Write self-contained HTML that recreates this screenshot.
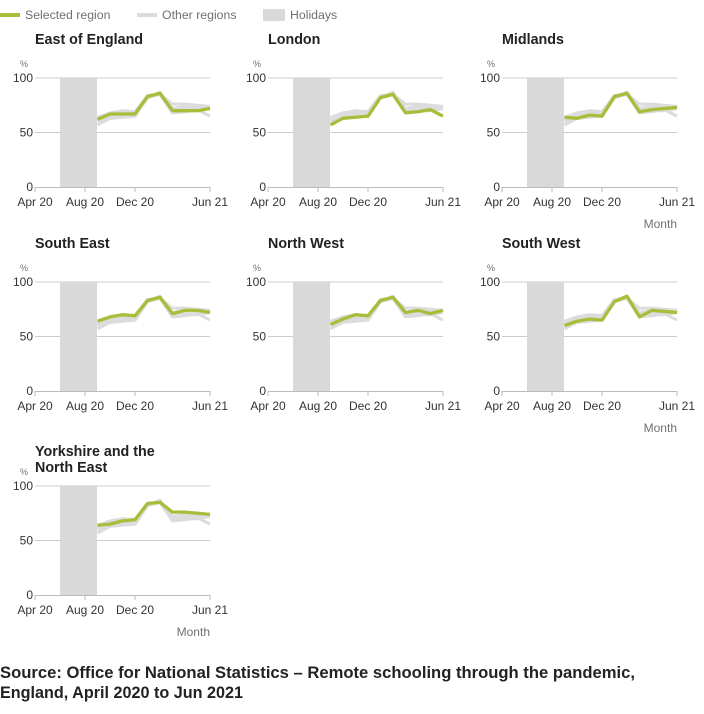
<!DOCTYPE html>
<html><head><meta charset="utf-8"><style>
body{margin:0;background:#fff;font-family:"Liberation Sans",sans-serif;}
svg text{font-family:"Liberation Sans",sans-serif;}
</style></head><body>
<svg id="chart" width="704" height="709" xmlns="http://www.w3.org/2000/svg">
<g>
<line x1="0" y1="15" x2="20" y2="15" stroke="#a8bd3a" stroke-width="4"/>
<text x="25" y="19" font-size="12.3" fill="#707070">Selected region</text>
<line x1="137" y1="15" x2="157" y2="15" stroke="#dcdcdc" stroke-width="4"/>
<text x="162" y="19" font-size="12.3" fill="#707070">Other regions</text>
<rect x="263" y="9" width="22" height="12" fill="#d9d9d9"/>
<text x="290" y="19" font-size="12.3" fill="#707070">Holidays</text>
</g>
<text x="0" y="678" font-size="16.5" font-weight="bold" fill="#222" textLength="635" lengthAdjust="spacingAndGlyphs">Source: Office for National Statistics – Remote schooling through the pandemic,</text>
<text x="0" y="698" font-size="16.5" font-weight="bold" fill="#222" textLength="243" lengthAdjust="spacingAndGlyphs">England, April 2020 to Jun 2021</text>
</svg>
<script>
const regions = ["East of England","London","Midlands","South East","North West","South West","Yorkshire and the North East"];
const months = [5,6,7,8,9,10,11,12,13,14]; // months since Apr 20
const eastEngland = [62,67,67,67,83,86,70,70,70,72];
const london = [57,63,64,65,82,85,68,69,71,65];
const midlands = [64,63,66,65,83,86,69,71,72,73];
const southEast = [64,68,70,69,83,86,71,74,74,72];
const northWest = [61,66,70,69,83,86,72,74,71,74];
const southWest = [60,64,66,65,82,87,68,74,73,72];
const yorkshire = [64,65,68,69,84,85,76,76,75,74];
const series = [eastEngland,london,midlands,southEast,northWest,southWest,yorkshire];
const yTicks = [0,50,100];
const xTicks = [0,4,8,14];
const xTickLabels = ["Apr 20","Aug 20","Dec 20","Jun 21"];
const holiday = [2,5];

const svg = document.getElementById('chart');
const NS = 'http://www.w3.org/2000/svg';
function mk(tag, attrs, parent){const e=document.createElementNS(NS,tag);for(const k in attrs)e.setAttribute(k,attrs[k]);parent.appendChild(e);return e;}
const colX=[35,268,502], rowY=[78,282,486];
regions.forEach((name,i)=>{
  const ox=colX[i%3], oy=rowY[Math.floor(i/3)];
  const xs=m=>ox+m*12.5, ys=v=>oy+109-v*1.09;
  const g=mk('g',{},svg);
  
  
  const two=name.length>20;
  if(two){
    const t=mk('text',{x:ox,y:oy-30,'font-size':14.3,'font-weight':'bold',fill:'#222'},g);t.textContent='Yorkshire and the';
    const t2=mk('text',{x:ox,y:oy-14,'font-size':14.3,'font-weight':'bold',fill:'#222'},g);t2.textContent='North East';
  } else {
    const t=mk('text',{x:ox,y:oy-34,'font-size':14.3,'font-weight':'bold',fill:'#222'},g);t.textContent=name;
  }
  const t0=mk('text',{x:ox-15,y:oy-11,'font-size':9,fill:'#707070'},g);t0.textContent='%';
  yTicks.forEach(v=>{
    if(v>0){mk('line',{x1:ox,x2:ox+175,y1:ys(v),y2:ys(v),stroke:'#ccc','stroke-width':1},g);}
    const t=mk('text',{x:ox-2,y:ys(v)+4,'font-size':12,fill:'#333','text-anchor':'end'},g);t.textContent=v;
  });
  const hr=mk('rect',{x:xs(holiday[0]),y:ys(100),width:xs(holiday[1])-xs(holiday[0])-0.5,height:109,fill:'#d9d9d9'},g);
  
  
  mk('line',{x1:ox,x2:ox+175,y1:ys(0)+0.5,y2:ys(0)+0.5,stroke:'#bbb'},g);
  xTicks.forEach((m,j)=>{
    mk('line',{x1:xs(m),x2:xs(m),y1:ys(0),y2:ys(0)+5,stroke:'#bbb'},g);
    const t=mk('text',{x:xs(m),y:ys(0)+19,'font-size':12,fill:'#333','text-anchor':'middle'},g);t.textContent=xTickLabels[j];
  });
  series.forEach((s,k)=>{
    if(k===i)return;
    const p=mk('polyline',{points:s.map((v,j)=>xs(months[j])+','+ys(v)).join(' '),fill:'none',stroke:'#dcdcdc','stroke-width':3,'stroke-linejoin':'round'},g);
    
    
  });
  const sel=mk('polyline',{points:series[i].map((v,j)=>xs(months[j])+','+ys(v)).join(' '),fill:'none',stroke:'#a8bd3a','stroke-width':3.3,'stroke-linejoin':'round'},g);
  
  
  if(i===2||i===5||i===6){
    const t=mk('text',{x:ox+175,y:ys(0)+41,'font-size':12,fill:'#707070','text-anchor':'end'},g);t.textContent='Month';
    
    
  }
});
</script>
</body></html>
